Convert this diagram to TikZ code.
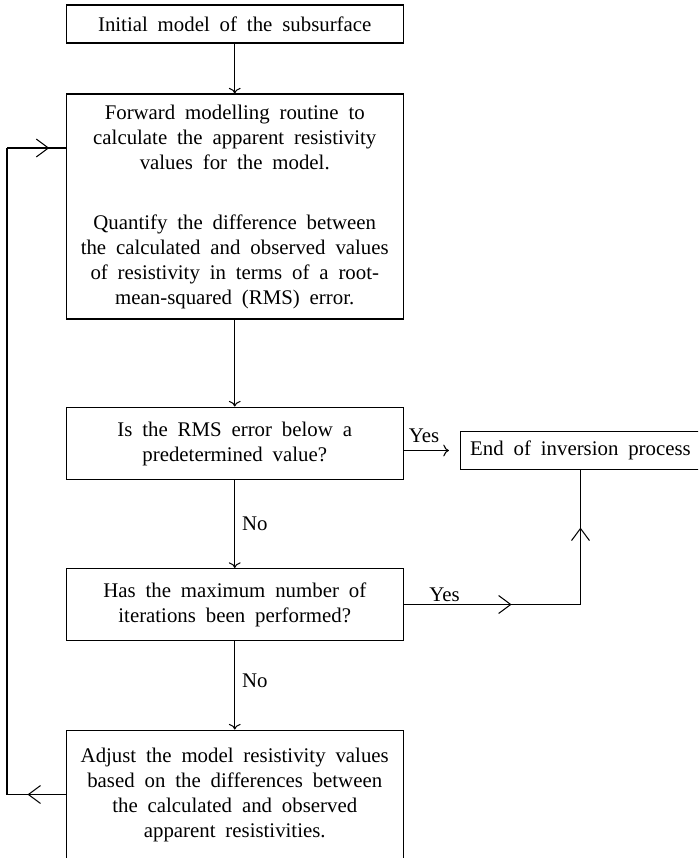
\documentclass[tikz,border=0pt]{standalone}
\usepackage{fontspec}
\setmainfont{Liberation Serif}[WordSpace=1.9]
\usetikzlibrary{arrows.meta,decorations.markings}
\tikzset{
  box/.style={draw, line width=0.5pt, align=center, minimum width=161.8pt, inner sep=3pt},
  conn/.style={line width=0.5pt},
  arr/.style={conn, ->},
  lbl/.style={inner sep=3.3pt},
  midarrow/.style={conn, postaction={decorate},
    decoration={markings, mark=at position #1 with {\arrow{Straight Barb[length=5.8pt,width=8.6pt,line width=0.5pt]}}}}
}
\begin{document}
\begin{tikzpicture}[x=0.48pt, y=-0.48pt]
\useasboundingbox (0,0) rectangle (698,858);
\clip (0,0) rectangle (698,858);
\node[box, minimum height=18.24pt] (B1) at (234.75,24) {Initial model of the subsurface};
\node[box, minimum height=108pt] (B2) at (234.75,206.5) {Forward modelling routine to\\ calculate the apparent resistivity\\ values for the model.\\[16.8pt] Quantify the difference between\\ the calculated and observed values\\ of resistivity in terms of a root-\\ mean-squared (RMS) error.};
\node[box, minimum height=35pt] (B3) at (234.75,443.5) {Is the RMS error below a\\ predetermined value?};
\node[box, minimum height=34.56pt] (B4) at (234.75,604.5) {Has the maximum number of\\ iterations been performed?};
\node[box, minimum height=61.9pt] (B5) at (234.75,794.5) {Adjust the model resistivity values\\ based on the differences between\\ the calculated and observed\\ apparent resistivities.};
\node[box, minimum width=115.2pt, minimum height=17.8pt] (End) at (580.5,450.5) {End of inversion process};

\draw[arr] (B1) -- (B2);
\draw[arr] (B2) -- (B3);
\draw[arr] (B3) -- (B4) node[midway, right, lbl] {No};
\draw[arr] (B4) -- (B5) node[pos=0.45, right, lbl] {No};
\draw[arr, shorten >=5.3pt] (End.west -| B3.east) -- (End.west) node[pos=0.36, above, lbl] {Yes};

\coordinate (C) at (End.south |- B4.east);
\draw[midarrow=0.61] (B4.east) -- (C) node[pos=0.23, above, inner sep=1pt] {Yes};
\draw[midarrow=0.57] (C) -- (End.south);

\coordinate (LA) at (7,148);
\coordinate (LB) at (B5.west -| LA);
\draw[midarrow=0.65] (B5.west) -- (LB);
\draw[conn] (LB) -- (LA);
\draw[midarrow=0.72] (LA) -- (LA -| B2.west);
\end{tikzpicture}
\end{document}
